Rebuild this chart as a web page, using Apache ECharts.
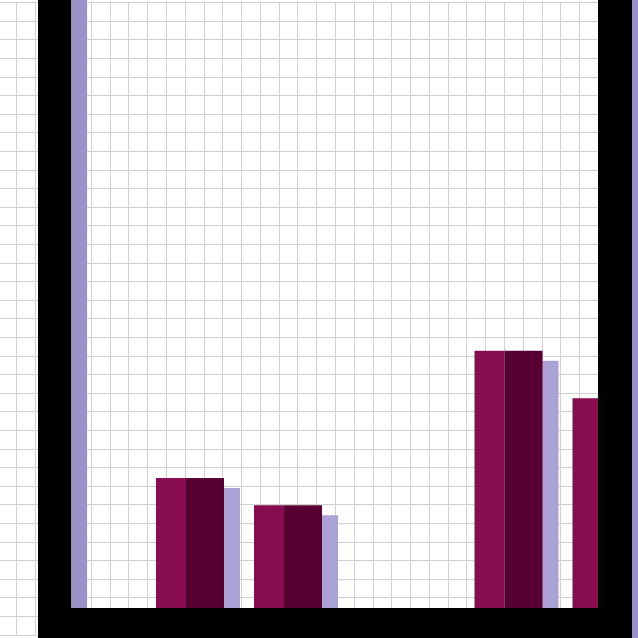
<!DOCTYPE html>
<html>
<head>
<meta charset="utf-8">
<script src="https://cdn.jsdelivr.net/npm/echarts@6/dist/echarts.min.js"></script>
<style>html,body{margin:0;padding:0;background:#fff}#c{width:638px;height:638px}</style>
</head>
<body>
<div id="c"></div>
<script>
// category slots along the x axis (no visible labels in the reference); empty slots hold no bar
const categories = ['', '', '', '', 'A', '', '', '', 'B', '', '', '', '', '', '', '', '', 'C', '', '', '', 'D'];
// bar values (arbitrary units, axis max 100)
const values = ['-', '-', '-', '-', 21.4, '-', '-', '-', 16.9, '-', '-', '-', '-', '-', '-', '-', '-', 42.3, '-', '-', '-', 34.5];

const chart = echarts.init(document.getElementById('c'), null, {renderer: 'canvas'});
const hidden = {show: false};
chart.setOption({
  backgroundColor: '#ffffff',
  animation: false,
  grid: [
    {left: -2.7, right: -16.5, top: 2.4, bottom: 3.2, outerBoundsMode: 'none', containLabel: false},   // background paper grid
    {left: 79.75, right: 19.25, top: 0, bottom: 30, outerBoundsMode: 'none', containLabel: false},     // bars
    {left: 54.5, right: 23, top: -30, bottom: 15, outerBoundsMode: 'none', containLabel: false}         // black frame
  ],
  xAxis: [
    {gridIndex: 0, type: 'value', min: 0, max: 35, interval: 1, z: 0,
     axisLine: hidden, axisTick: hidden, axisLabel: hidden,
     splitLine: {show: true, lineStyle: {color: '#d0d0d0', width: 1}}},
    {gridIndex: 1, type: 'category', data: categories,
     axisLine: hidden, axisTick: hidden, axisLabel: hidden, splitLine: hidden},
    {gridIndex: 2, type: 'value', min: 0, max: 1, z: 11,
     axisLine: {show: true, onZero: false, lineStyle: {color: '#000', width: 30, cap: 'square'}},
     axisTick: hidden, axisLabel: hidden, splitLine: hidden}
  ],
  yAxis: [
    {gridIndex: 0, type: 'value', min: 0, max: 34, interval: 1, z: 0,
     axisLine: hidden, axisTick: hidden, axisLabel: hidden,
     splitLine: {show: true, lineStyle: {color: '#d0d0d0', width: 1}}},
    {gridIndex: 1, type: 'value', min: 0, max: 100,
     axisLine: hidden, axisTick: hidden, axisLabel: hidden, splitLine: hidden},
    {gridIndex: 2, type: 'value', min: 0, max: 1, position: 'left', z: 10,
     axisLine: {show: true, onZero: false, lineStyle: {color: '#000', width: 33, cap: 'square',
       shadowColor: '#9b91c9', shadowOffsetX: 16, shadowOffsetY: 0, shadowBlur: 0}},
     axisTick: hidden, axisLabel: hidden, splitLine: hidden},
    {gridIndex: 2, type: 'value', min: 0, max: 1, position: 'right', z: 10,
     axisLine: {show: true, onZero: false, lineStyle: {color: '#000', width: 34, cap: 'square',
       shadowColor: '#9b91c9', shadowOffsetX: 16, shadowOffsetY: 0, shadowBlur: 0}},
     axisTick: hidden, axisLabel: hidden, splitLine: hidden}
  ],
  series: [
    {type: 'bar', xAxisIndex: 1, yAxisIndex: 1, data: values, barWidth: 30, barGap: '0%',
     itemStyle: {color: '#880d50'}, z: 2},
    {type: 'bar', xAxisIndex: 1, yAxisIndex: 1, data: values, barWidth: 38, barGap: '0%',
     itemStyle: {color: '#560131', shadowColor: '#aaa1d4', shadowOffsetX: 16, shadowOffsetY: 10, shadowBlur: 0}, z: 2}
  ]
});
</script>
</body>
</html>
